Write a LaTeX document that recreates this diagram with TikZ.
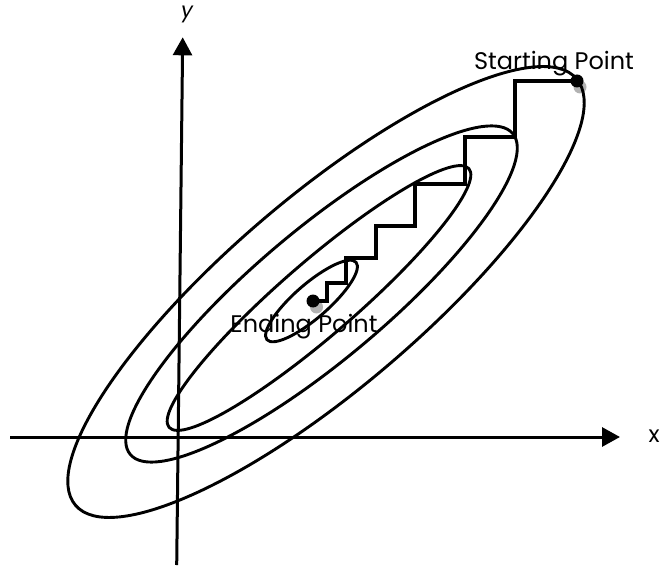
\documentclass[tikz,border=0pt]{standalone}
\usepackage{fontspec}
\setmainfont{Poppins}
\usetikzlibrary{arrows.meta}
\begin{document}
\begin{tikzpicture}[x=1pt,y=1pt,
  contour/.style={line width=2.9pt},
  axisline/.style={line width=3pt,-{Triangle[length=18pt,width=19pt]}},
  stair/.style={line width=3.5pt,line join=miter},
  dotnode/.style={circle,fill=black,minimum size=13pt,inner sep=0pt},
  shadownode/.style={circle,fill=black,fill opacity=0.3,minimum size=13pt,inner sep=0pt},
  lab/.style={font=\fontsize{24}{28}\selectfont,inner sep=0pt},
  axlab/.style={font=\fontsize{23}{27}\selectfont,inner sep=0pt}]
\useasboundingbox (0,0) rectangle (660,568);
% axes
\coordinate (xs) at (10,131);
\coordinate (xe) at (620,131);
\coordinate (ys) at (176.7,3);
\coordinate (ye) at (182.7,530.7);
\draw[axisline] (xs) -- (xe);
\draw[axisline] (ys) -- (ye);
\node[axlab] (xl) at (654,132) {x};
\node[axlab,font=\fontsize{21}{25}\selectfont\itshape] (yl) at (187,554) {y};
% contours
\draw[contour,rotate around={40.4:(326,276)}] (326,276) ellipse [x radius=329, y radius=96];
\draw[contour,rotate around={40.0:(321.5,274)}] (321.5,274) ellipse [x radius=249.6, y radius=65.3];
\draw[contour,rotate around={40.8:(319,270)}] (319,270) ellipse [x radius=198, y radius=37];
\draw[contour,rotate around={41:(311.5,267)}] (311.5,267) ellipse [x radius=59, y radius=17];
% staircase
\node[shadownode] (s2) at (580,481) {};
\node[shadownode] (e2) at (316.5,261) {};
\coordinate (p1) at (515,487);
\coordinate (p2) at (515,431);
\coordinate (p3) at (465,431);
\coordinate (p4) at (465,384);
\coordinate (p5) at (415,384);
\coordinate (p6) at (415,342);
\coordinate (p7) at (376,342);
\coordinate (p8) at (376,310);
\coordinate (p9) at (346,310);
\coordinate (p10) at (346,285);
\coordinate (p11) at (327,285);
\coordinate (p12) at (327,267);
\node[dotnode] (start) at (577,487) {};
\node[dotnode] (end) at (313,267) {};
\draw[stair] (start.center) -- (p1) -- (p2) -- (p3) -- (p4) -- (p5) -- (p6) -- (p7) -- (p8) -- (p9) -- (p10) -- (p11) -- (p12) -- (end.center);
% labels
\node[lab,anchor=base] (sl) at (554,498.7) {Starting Point};
\node[lab,anchor=base] (el) at (304,235.7) {Ending Point};
\end{tikzpicture}
\end{document}
